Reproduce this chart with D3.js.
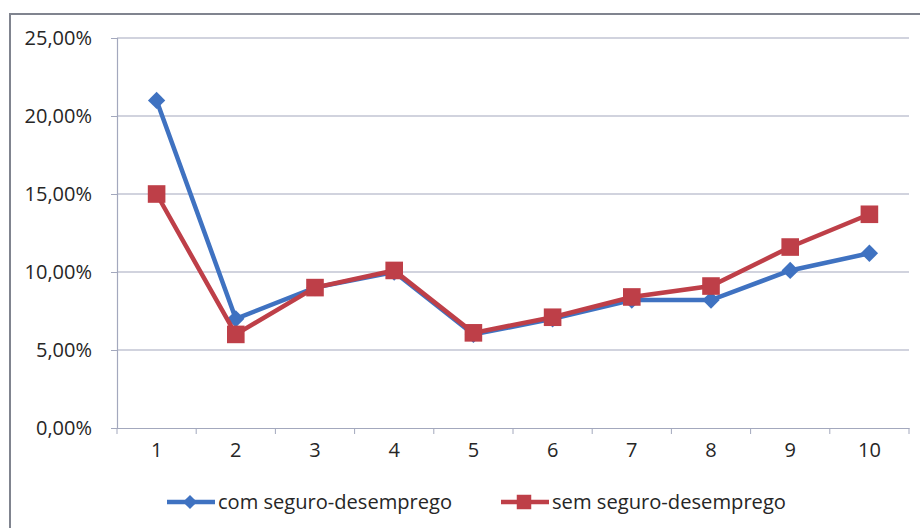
<!DOCTYPE html>
<html>
<head>
<meta charset="utf-8">
<script src="https://cdn.jsdelivr.net/npm/d3@7"></script>
<style>
  body { margin: 0; background: #fff; }
  svg { display: block; font-family: "Open Sans", sans-serif; }
</style>
</head>
<body>
<svg id="chart" width="920" height="528"></svg>
<script>
const categories = ["1", "2", "3", "4", "5", "6", "7", "8", "9", "10"];
const comSeguro = [0.21, 0.07, 0.09, 0.10, 0.06, 0.07, 0.082, 0.082, 0.101, 0.112];
const semSeguro = [0.15, 0.06, 0.09, 0.101, 0.061, 0.071, 0.084, 0.091, 0.116, 0.137];
const yTicks = [0, 0.05, 0.10, 0.15, 0.20, 0.25];
const seriesNames = ["com seguro-desemprego", "sem seguro-desemprego"];

const blue = "#3f72c1";
const red = "#be3f48";
const font = "'Open Sans', sans-serif";
const textColor = "#262626";

const svg = d3.select("#chart");

// outer chart frame (runs off the right/bottom edge)
svg.append("rect")
    .attr("x", 10).attr("y", 14)
    .attr("width", 940).attr("height", 560)
    .style("fill", "none")
    .style("stroke", "#80848f")
    .style("stroke-width", 2);

const x = d3.scaleBand()
    .domain(categories)
    .range([117, 909]);

const y = d3.scaleLinear()
    .domain([0, 0.25])
    .range([428, 38]);

const fmt = v => d3.format(".2f")(v * 100).replace(".", ",") + "%";

// gridlines
svg.append("g")
    .selectAll("line")
    .data(yTicks.filter(d => d > 0))
    .enter().append("line")
    .attr("x1", 117).attr("x2", 909)
    .attr("y1", d => y(d)).attr("y2", d => y(d))
    .style("stroke", "#a3a8bd")
    .style("stroke-width", 1.2);

// y axis
const yAxis = svg.append("g")
    .attr("transform", "translate(117,0)")
    .call(d3.axisLeft(y).tickValues(yTicks).tickFormat(fmt).tickSize(6).tickPadding(19));
yAxis.attr("font-family", null);
yAxis.select(".domain").style("stroke", "#a3a8bd").style("stroke-width", 1.2);
yAxis.selectAll(".tick line").style("stroke", "#a3a8bd");
yAxis.selectAll("text").style("font-family", font).style("font-size", "20px").style("fill", textColor);

// x axis
const xAxis = svg.append("g")
    .attr("transform", "translate(0,428)")
    .call(d3.axisBottom(x).tickSize(0).tickPadding(15));
xAxis.attr("font-family", null);
xAxis.select(".domain").style("stroke", "#a3a8bd").style("stroke-width", 1.2);
xAxis.selectAll("text").style("font-family", font).style("font-size", "20px").style("fill", textColor);
xAxis.selectAll(".bound")
    .data(d3.range(categories.length + 1))
    .enter().append("line")
    .attr("x1", i => x.range()[0] + i * x.step())
    .attr("x2", i => x.range()[0] + i * x.step())
    .attr("y1", 0).attr("y2", 6)
    .style("stroke", "#a3a8bd");

const line = d3.line()
    .x((d, i) => x(categories[i]) + x.bandwidth() / 2)
    .y(d => y(d));

const diamond = d3.symbol().type(d3.symbolSquare).size(150);
const square = d3.symbol().type(d3.symbolSquare).size(310);

// com seguro (blue, diamonds)
svg.append("path")
    .datum(comSeguro)
    .attr("d", line)
    .style("fill", "none")
    .style("stroke", blue)
    .style("stroke-width", 4.5);
svg.selectAll(".ptBlue")
    .data(comSeguro)
    .enter().append("path")
    .attr("class", "ptBlue")
    .attr("d", diamond)
    .attr("transform", (d, i) => "translate(" + (x(categories[i]) + x.bandwidth() / 2) + "," + y(d) + ") rotate(45)")
    .style("fill", blue);

// sem seguro (red, squares)
svg.append("path")
    .datum(semSeguro)
    .attr("d", line)
    .style("fill", "none")
    .style("stroke", red)
    .style("stroke-width", 4.5);
svg.selectAll(".ptRed")
    .data(semSeguro)
    .enter().append("path")
    .attr("class", "ptRed")
    .attr("d", square)
    .attr("transform", (d, i) => "translate(" + (x(categories[i]) + x.bandwidth() / 2) + "," + y(d) + ")")
    .style("fill", red);

// legend
const legendX = [167, 501];
const legend = svg.selectAll(".legend")
    .data(seriesNames)
    .enter().append("g")
    .attr("class", "legend")
    .attr("transform", (d, i) => "translate(" + legendX[i] + ",502)");

legend.append("line")
    .attr("x1", 0).attr("x2", 48)
    .style("stroke", (d, i) => i === 0 ? blue : red)
    .style("stroke-width", 4.5);
legend.append("path")
    .attr("d", (d, i) => i === 0 ? d3.symbol().type(d3.symbolSquare).size(100)() : d3.symbol().type(d3.symbolSquare).size(210)())
    .attr("transform", (d, i) => i === 0 ? "translate(23,0) rotate(45)" : "translate(23,0)")
    .style("fill", (d, i) => i === 0 ? blue : red);
legend.append("text")
    .attr("x", 51)
    .attr("y", 7)
    .attr("textLength", 234)
    .attr("lengthAdjust", "spacingAndGlyphs")
    .style("font-family", font)
    .style("font-size", "20px")
    .style("fill", textColor)
    .text(d => d);
</script>
</body>
</html>
